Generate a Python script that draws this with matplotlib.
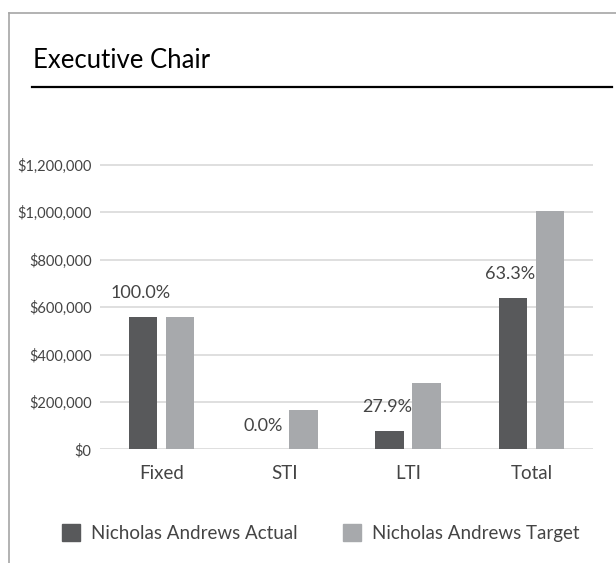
import matplotlib.pyplot as plt
from matplotlib.lines import Line2D
from matplotlib.patches import Patch
import numpy as np

plt.rcParams['font.family'] = ['Lato', 'DejaVu Sans']

categories = ['Fixed', 'STI', 'LTI', 'Total']
actual = [560000, 0, 78000, 638000]
target = [560000, 166000, 280000, 1006000]
pct_labels = ['100.0%', '0.0%', '27.9%', '63.3%']
series_names = ['Nicholas Andrews Actual', 'Nicholas Andrews Target']
yticks = [0, 200000, 400000, 600000, 800000, 1000000, 1200000]

c_actual = '#58595b'
c_target = '#a7a9ac'
c_text = '#444444'

fig = plt.figure(figsize=(6.16, 5.63), dpi=100)
W, H = 616, 563

# card border (top and left edges) and title rule
fig.add_artist(Line2D([9 / W, 1], [1 - 13 / H, 1 - 13 / H], color='#a6a6a6', lw=1.2))
fig.add_artist(Line2D([9 / W, 9 / W], [0, 1 - 13 / H], color='#a6a6a6', lw=1.2))
fig.add_artist(Line2D([32 / W, 612 / W], [1 - 87 / H, 1 - 87 / H], color='black', lw=1.6))
fig.text(33 / W, 1 - 60 / H, 'Executive Chair', fontsize=18.5, color='black',
         va='center', ha='left')

ax = fig.add_axes([100 / W, 1 - 449.3 / H, 493 / W, (449.3 - 163.5) / H])
x = np.arange(len(categories))
bw = 0.23
off = 0.15
ax.bar(x - off, actual, bw, color=c_actual, zorder=3)
ax.bar(x + off, target, bw, color=c_target, zorder=3)

for xi, v, lab in zip(x, actual, pct_labels):
    ax.annotate(lab, (xi - off, v), xytext=(-2, 17), textcoords='offset points',
                ha='center', va='center', fontsize=13, color=c_text)

ax.set_xlim(-0.5, 3.5)
ax.set_ylim(0, 1206000)
ax.set_yticks(yticks)
ax.set_yticklabels(['${:,.0f}'.format(v) for v in yticks])
ax.set_xticks(x)
ax.set_xticklabels(categories)
ax.tick_params(axis='y', length=0, pad=6, labelsize=10.5, labelcolor=c_text)
ax.tick_params(axis='x', length=0, pad=11, labelsize=13.5, labelcolor=c_text)
ax.grid(axis='y', color='#dcdcdc', lw=1.3, zorder=0)
for s in ax.spines.values():
    s.set_visible(False)

handles = [Patch(color=c_actual), Patch(color=c_target)]
fig.legend(handles, series_names, loc='center', bbox_to_anchor=(321 / W, 1 - 533 / H),
           ncol=2, frameon=False, fontsize=13.5, handlelength=0.95, handleheight=1.0,
           columnspacing=2.4, handletextpad=0.6, labelcolor=c_text)

fig.savefig('out.png', dpi=100)
